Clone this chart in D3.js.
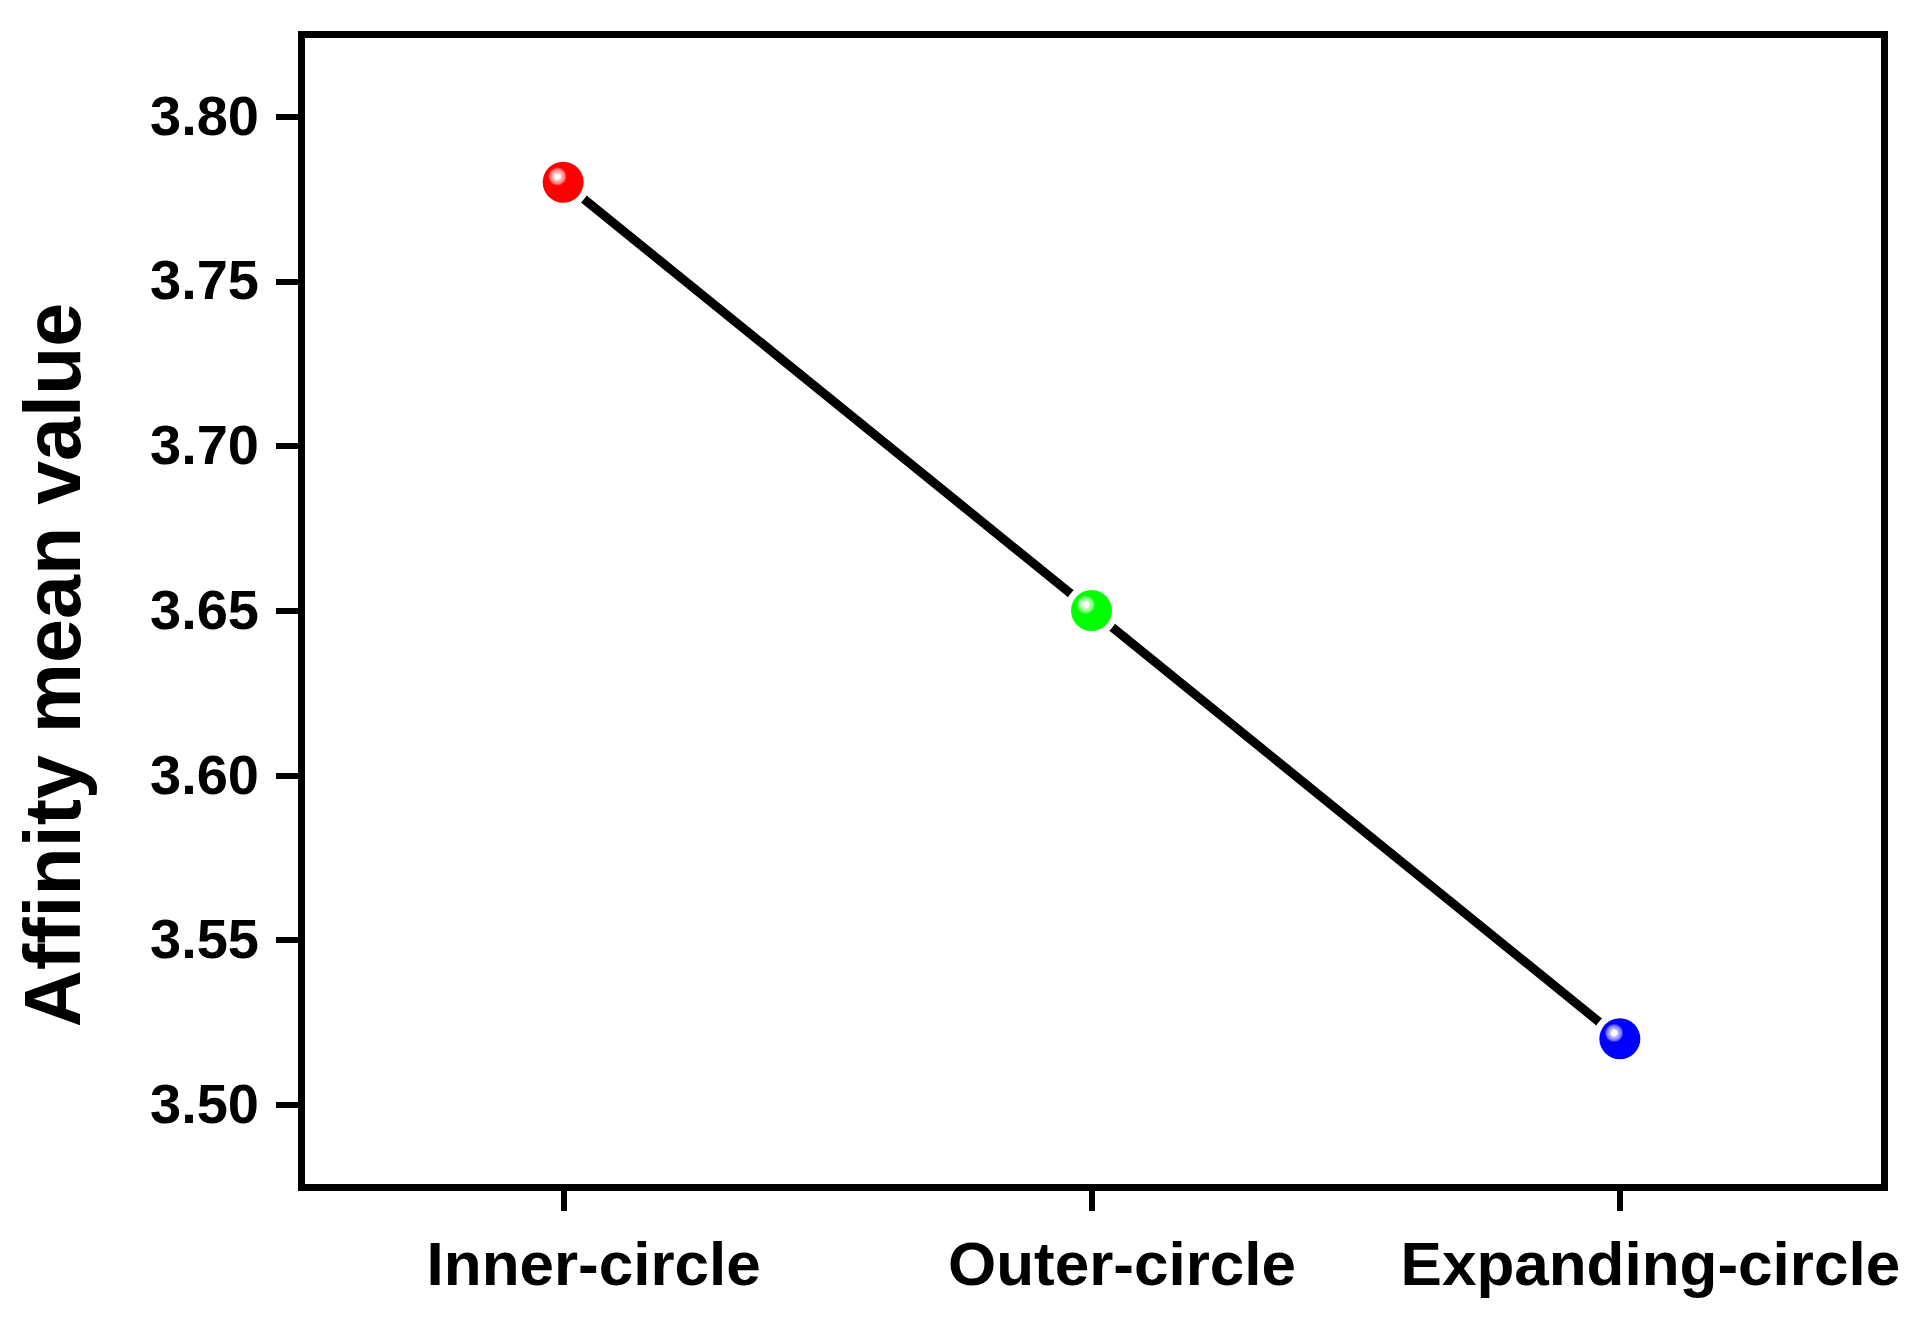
<html>
<head>
<meta charset="utf-8">
<script src="https://d3js.org/d3.v7.min.js"></script>
<style>
  body { margin: 0; background: #fff; }
  svg { display: block; font-family: "Liberation Sans", Arial, sans-serif; font-weight: bold; }
</style>
</head>
<body>
<script>
  // data
  var groups = ["Inner-circle", "Outer-circle", "Expanding-circle"];
  var means = [3.78, 3.65, 3.52];
  var colors = ["#ff0000", "#00ff00", "#0000ff"];
  var yTicks = [3.50, 3.55, 3.60, 3.65, 3.70, 3.75, 3.80];
  var yLabel = "Affinity mean value";

  var W = 1925, H = 1321;
  var svg = d3.select("body").append("svg").attr("width", W).attr("height", H);

  var x = d3.scalePoint().domain(groups).range([299, 1884]).padding(0.5);
  var y = d3.scaleLinear().domain([3.475, 3.825]).range([1187, 34]);

  // shaded ball gradients
  var defs = svg.append("defs");
  colors.forEach(function(c, i) {
    var g = defs.append("radialGradient").attr("id", "ball" + i)
      .attr("cx", 0.36).attr("cy", 0.36).attr("fx", 0.36).attr("fy", 0.36).attr("r", 0.5);
    g.append("stop").attr("offset", 0).attr("stop-color", "#fff");
    g.append("stop").attr("offset", 0.12).attr("stop-color", "#fff");
    g.append("stop").attr("offset", 0.2).attr("stop-color", d3.interpolateRgb(c, "#fff")(0.75));
    g.append("stop").attr("offset", 0.36).attr("stop-color", d3.interpolateRgb(c, "#fff")(0.45));
    g.append("stop").attr("offset", 0.46).attr("stop-color", c);
    g.append("stop").attr("offset", 1).attr("stop-color", c);
  });

  // y axis
  var yAxis = d3.axisLeft(y).tickValues(yTicks).tickFormat(d3.format(".2f"))
    .tickSize(23).tickPadding(17).tickSizeOuter(0);
  var gy = svg.append("g").attr("transform", "translate(" + x.range()[0] + ",0)").call(yAxis);
  gy.select(".domain").remove();
  gy.selectAll("line").attr("stroke", "#000").attr("stroke-width", 6).attr("shape-rendering", "crispEdges");
  gy.selectAll("text").attr("font-size", 56).attr("font-weight", "bold").attr("fill", "#000")
    .attr("font-family", "'Liberation Sans', Arial, sans-serif");

  // x axis
  var xAxis = d3.axisBottom(x).tickSize(24).tickSizeOuter(0);
  var gx = svg.append("g").attr("transform", "translate(0," + y.range()[0] + ")").call(xAxis);
  gx.select(".domain").remove();
  gx.selectAll("line").attr("stroke", "#000").attr("stroke-width", 6).attr("shape-rendering", "crispEdges");
  gx.selectAll("text").attr("font-size", 62).attr("font-weight", "bold").attr("fill", "#000")
    .attr("font-family", "'Liberation Sans', Arial, sans-serif")
    .attr("y", 98).attr("dy", 0).attr("dx", 30);

  // frame
  svg.append("rect")
    .attr("x", 301).attr("y", y.range()[1])
    .attr("width", x.range()[1] - 301).attr("height", y.range()[0] - y.range()[1])
    .attr("fill", "none").attr("stroke", "#000").attr("stroke-width", 7)
    .attr("shape-rendering", "crispEdges");

  // line
  var pts = groups.map(function(g, i) { return [x(g), y(means[i])]; });
  svg.append("path")
    .attr("d", d3.line()(pts))
    .attr("fill", "none").attr("stroke", "#000").attr("stroke-width", 9);

  // markers, white halo cuts the line
  svg.selectAll("circle.halo").data(pts).enter().append("circle")
    .attr("class", "halo")
    .attr("cx", function(d) { return d[0]; })
    .attr("cy", function(d) { return d[1]; })
    .attr("r", 27)
    .attr("fill", "#fff");

  svg.selectAll("circle.pt").data(pts).enter().append("circle")
    .attr("class", "pt")
    .attr("cx", function(d) { return d[0]; })
    .attr("cy", function(d) { return d[1]; })
    .attr("r", 20.5)
    .attr("fill", function(d, i) { return "url(#ball" + i + ")"; });

  // y title
  svg.append("text")
    .attr("transform", "translate(80,665) rotate(-90)")
    .attr("text-anchor", "middle")
    .attr("font-size", 79)
    .attr("fill", "#000")
    .text(yLabel);
</script>
</body>
</html>
